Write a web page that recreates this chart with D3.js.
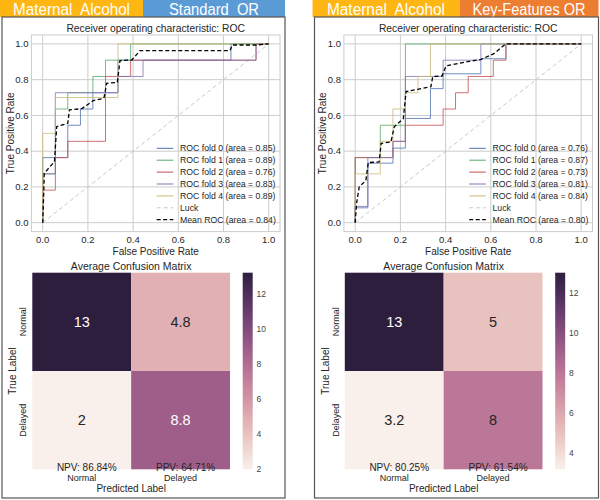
<!DOCTYPE html>
<html>
<head>
<meta charset="utf-8">
<script src="https://cdn.jsdelivr.net/npm/d3@7"></script>
<style>
  body { margin: 0; background: #fff; }
  text { font-family: "Liberation Sans", Arial, sans-serif; }
</style>
</head>
<body>
<div id="chart"></div>
<script>
// ---- data ----
const headerLeft = ["Maternal  Alcohol", "Standard  OR"];
const headerRight = ["Maternal  Alcohol", "Key-Features OR"];

const rocTicks = [0, 0.2, 0.4, 0.6, 0.8, 1.0];
const foldNames = ["ROC fold 0", "ROC fold 1", "ROC fold 2", "ROC fold 3", "ROC fold 4"];
const classNames = ["Normal", "Delayed"];

// step curves [fpr, tpr]
const leftFolds = [
  [[0, 0], [0, 0.364], [0.111, 0.364], [0.111, 0.545], [0.167, 0.545], [0.167, 0.636], [0.222, 0.636], [0.222, 0.727], [0.333, 0.727], [0.333, 0.909], [0.833, 0.909], [0.833, 1], [1, 1]],
  [[0, 0], [0, 0.273], [0.056, 0.273], [0.056, 0.636], [0.111, 0.636], [0.111, 0.727], [0.222, 0.727], [0.222, 0.818], [0.278, 0.818], [0.278, 0.909], [0.389, 0.909], [0.389, 1], [1, 1]],
  [[0, 0], [0, 0.182], [0.056, 0.182], [0.056, 0.364], [0.111, 0.364], [0.111, 0.455], [0.278, 0.455], [0.278, 0.818], [0.389, 0.818], [0.389, 0.909], [0.944, 0.909], [0.944, 1], [1, 1]],
  [[0, 0], [0, 0.273], [0.056, 0.273], [0.056, 0.727], [0.333, 0.727], [0.333, 0.818], [0.444, 0.818], [0.444, 0.909], [0.944, 0.909], [0.944, 1], [1, 1]],
  [[0, 0], [0, 0.5], [0.056, 0.5], [0.056, 0.7], [0.333, 0.7], [0.333, 1], [1, 1]]
];
const leftFoldAreas = [0.85, 0.89, 0.76, 0.83, 0.89];
const leftMean = [[0, 0], [0.003, 0.108], [0.007, 0.276], [0.032, 0.313], [0.052, 0.341], [0.062, 0.537], [0.111, 0.556], [0.118, 0.631], [0.173, 0.638], [0.224, 0.683], [0.271, 0.696], [0.283, 0.780], [0.330, 0.784], [0.342, 0.907], [0.394, 0.910], [0.431, 0.963], [0.829, 0.963], [0.839, 0.994], [0.947, 0.994], [0.991, 1], [1, 1]];
const leftMeanArea = 0.84;

const rightFolds = [
  [[0, 0], [0, 0.083], [0.056, 0.083], [0.056, 0.333], [0.167, 0.333], [0.167, 0.417], [0.222, 0.417], [0.222, 0.583], [0.333, 0.583], [0.333, 0.75], [0.389, 0.75], [0.389, 0.833], [0.556, 0.833], [0.556, 0.917], [0.667, 0.917], [0.667, 1], [1, 1]],
  [[0, 0], [0, 0.364], [0.111, 0.364], [0.111, 0.545], [0.222, 0.545], [0.222, 1], [1, 1]],
  [[0, 0], [0, 0.364], [0.167, 0.364], [0.167, 0.455], [0.222, 0.455], [0.222, 0.545], [0.389, 0.545], [0.389, 0.636], [0.444, 0.636], [0.444, 0.727], [0.5, 0.727], [0.5, 0.818], [0.611, 0.818], [0.611, 0.909], [0.667, 0.909], [0.667, 1], [1, 1]],
  [[0, 0], [0, 0.091], [0.056, 0.091], [0.056, 0.364], [0.167, 0.364], [0.167, 0.455], [0.222, 0.455], [0.222, 0.818], [0.389, 0.818], [0.389, 0.909], [0.556, 0.909], [0.556, 1], [1, 1]],
  [[0, 0], [0, 0.273], [0.111, 0.273], [0.111, 0.455], [0.167, 0.455], [0.167, 0.636], [0.222, 0.636], [0.222, 0.727], [0.278, 0.727], [0.278, 0.818], [0.333, 0.818], [0.333, 1], [1, 1]]
];
const rightFoldAreas = [0.76, 0.87, 0.73, 0.81, 0.84];
const rightMean = [[0, 0], [0.006, 0.108], [0.018, 0.201], [0.047, 0.235], [0.058, 0.336], [0.106, 0.340], [0.115, 0.444], [0.158, 0.451], [0.173, 0.537], [0.213, 0.582], [0.225, 0.733], [0.276, 0.746], [0.335, 0.761], [0.343, 0.817], [0.384, 0.821], [0.402, 0.877], [0.498, 0.901], [0.557, 0.914], [0.612, 0.944], [0.666, 1], [1, 1]];
const rightMeanArea = 0.80;

// average confusion matrices, rows = true, cols = predicted
const leftMatrix = [[13.2, 4.8], [2.0, 8.8]];
const rightMatrix = [[13.0, 5.0], [3.2, 8.0]];

// ---- styles ----
const foldColors = ["#4C72B0", "#55A868", "#C44E52", "#8172B2", "#CCB974"];
const gold = "#FFB612";
const textColor = "#262626";
const gridColor = "#cccccc";

const svg = d3.select("#chart").append("svg")
  .attr("width", 600)
  .attr("height", 500);

// seaborn-style cubehelix palette, low -> light, high -> dark
function cubehelix(t) {
  const x = 0.95 + (0.15 - 0.95) * t;
  const a = 0.8 * x * (1 - x) / 2;
  const phi = 2 * Math.PI * (0.4 * x);
  const c = Math.cos(phi), s = Math.sin(phi);
  const clamp = v => Math.max(0, Math.min(1, v));
  const r = clamp(x + a * (-0.14861 * c + 1.78277 * s));
  const g = clamp(x + a * (-0.29227 * c - 0.90649 * s));
  const b = clamp(x + a * (1.97294 * c));
  return d3.rgb(r * 255, g * 255, b * 255);
}

function drawPanel(ox, headers, headerSplit, headerEnd, headerColor, headerWidths, folds, areas, mean, meanArea, matrix) {
  const g = svg.append("g").attr("transform", "translate(" + ox + ",0)");

  // header bars
  g.append("rect").attr("x", 0).attr("y", 0).attr("width", headerSplit).attr("height", 17).attr("fill", gold);
  g.append("rect").attr("x", headerSplit).attr("y", 0).attr("width", headerEnd - headerSplit).attr("height", 17).attr("fill", headerColor);
  g.append("text").attr("x", headerSplit / 2).attr("y", 15)
    .attr("text-anchor", "middle").attr("fill", "#fff").style("font-size", "16px")
    .attr("textLength", headerWidths[0]).attr("lengthAdjust", "spacingAndGlyphs")
    .style("white-space", "pre").text(headers[0]);
  g.append("text").attr("x", (headerSplit + headerEnd) / 2).attr("y", 15)
    .attr("text-anchor", "middle").attr("fill", "#fff").style("font-size", "16px")
    .attr("textLength", headerWidths[1]).attr("lengthAdjust", "spacingAndGlyphs")
    .style("white-space", "pre").text(headers[1]);

  // panel border
  g.append("rect").attr("x", 2).attr("y", 17).attr("width", headerEnd - 2).attr("height", 481)
    .attr("fill", "none").attr("stroke", "#555").attr("stroke-width", 1.2);

  // ROC axes
  const x = d3.scaleLinear().domain([-0.05, 1.05]).range([31.4, 280]);
  const y = d3.scaleLinear().domain([-0.05, 1.05]).range([231.6, 35]);

  g.append("rect").attr("x", x(-0.05)).attr("y", y(1.05))
    .attr("width", x(1.05) - x(-0.05)).attr("height", y(-0.05) - y(1.05))
    .attr("fill", "#fff").attr("stroke", gridColor).attr("stroke-width", 1);

  g.selectAll(".vgrid").data(rocTicks).enter().append("line")
    .attr("x1", d => x(d)).attr("x2", d => x(d))
    .attr("y1", y(-0.05)).attr("y2", y(1.05))
    .attr("stroke", gridColor).attr("stroke-width", 1);
  g.selectAll(".hgrid").data(rocTicks).enter().append("line")
    .attr("y1", d => y(d)).attr("y2", d => y(d))
    .attr("x1", x(-0.05)).attr("x2", x(1.05))
    .attr("stroke", gridColor).attr("stroke-width", 1);

  g.selectAll(".xtick").data(rocTicks).enter().append("text")
    .attr("x", d => x(d)).attr("y", 243)
    .attr("text-anchor", "middle").attr("fill", textColor).style("font-size", "9.5px")
    .text(d3.format(".1f"));
  g.selectAll(".ytick").data(rocTicks).enter().append("text")
    .attr("x", 28.5).attr("y", d => y(d)).attr("dy", "0.35em")
    .attr("text-anchor", "end").attr("fill", textColor).style("font-size", "9.5px")
    .text(d3.format(".1f"));

  g.append("text").attr("x", (x(-0.05) + x(1.05)) / 2).attr("y", 255)
    .attr("text-anchor", "middle").attr("fill", textColor).style("font-size", "10px")
    .text("False Positive Rate");
  g.append("text").attr("transform", "translate(13.5," + ((y(-0.05) + y(1.05)) / 2) + ") rotate(-90)")
    .attr("text-anchor", "middle").attr("fill", textColor).style("font-size", "10px")
    .text("True Positive Rate");
  g.append("text").attr("x", (x(-0.05) + x(1.05)) / 2).attr("y", 31.5)
    .attr("text-anchor", "middle").attr("fill", textColor).style("font-size", "10.3px")
    .text("Receiver operating characteristic: ROC");

  const line = d3.line().x(d => x(d[0])).y(d => y(d[1]));

  // luck diagonal
  g.append("path").datum([[0, 0], [1, 1]]).attr("d", line)
    .attr("fill", "none").attr("stroke", "#c8c8c8").attr("stroke-width", 1)
    .attr("stroke-dasharray", "4,3");

  folds.forEach((f, i) => {
    g.append("path").datum(f).attr("d", line)
      .attr("fill", "none").attr("stroke", foldColors[i])
      .attr("stroke-width", 1).attr("stroke-opacity", 0.8);
  });

  g.append("path").datum(mean).attr("d", line)
    .attr("fill", "none").attr("stroke", "#000").attr("stroke-width", 1.3)
    .attr("stroke-dasharray", "4,2.5");

  // legend
  const legendItems = foldNames.map((n, i) => ({
    label: n + " (area = " + d3.format(".2f")(areas[i]) + ")",
    color: foldColors[i], dash: null, width: 1
  }));
  legendItems.push({ label: "Luck", color: "#c8c8c8", dash: "4,3", width: 1 });
  legendItems.push({ label: "Mean ROC (area = " + d3.format(".2f")(meanArea) + ")", color: "#000", dash: "4,2.5", width: 1.3 });

  const legend = g.append("g").attr("transform", "translate(156.7,148.3)");
  legendItems.forEach((d, i) => {
    legend.append("line").attr("x1", 0).attr("x2", 16.6).attr("y1", i * 11.9).attr("y2", i * 11.9)
      .attr("stroke", d.color).attr("stroke-width", d.width)
      .attr("stroke-dasharray", d.dash);
    legend.append("text").attr("x", 23.3).attr("y", i * 11.9).attr("dy", "0.35em")
      .attr("fill", textColor).style("font-size", "8.7px").text(d.label);
  });

  // confusion matrix heatmap
  const vals = matrix.flat();
  const vmin = d3.min(vals), vmax = d3.max(vals);
  const norm = v => (v - vmin) / (vmax - vmin);
  const hx = d3.scaleBand().domain([0, 1]).range([32.3, 230]);
  const hy = d3.scaleBand().domain([0, 1]).range([272.7, 469.3]);
  const fmt = d3.format(".2~g");

  const cells = [];
  matrix.forEach((row, r) => row.forEach((v, c) => cells.push({ r, c, v })));

  g.selectAll(".cell").data(cells).enter().append("rect")
    .attr("x", d => hx(d.c)).attr("y", d => hy(d.r))
    .attr("width", hx.bandwidth()).attr("height", hy.bandwidth())
    .attr("fill", d => cubehelix(norm(d.v)));

  // dark text on the lighter half of the palette, white on the darker one
  g.selectAll(".annot").data(cells).enter().append("text")
    .attr("x", d => hx(d.c) + hx.bandwidth() / 2)
    .attr("y", d => hy(d.r) + hy.bandwidth() / 2).attr("dy", "0.35em")
    .attr("text-anchor", "middle").style("font-size", "14.5px")
    .attr("fill", d => norm(d.v) < 0.55 ? textColor : "#fff")
    .text(d => fmt(d.v));

  // predictive values, per predicted column
  const npv = matrix[0][0] / (matrix[0][0] + matrix[1][0]);
  const ppv = matrix[1][1] / (matrix[1][1] + matrix[0][1]);
  g.append("text").attr("x", hx(0) + hx.bandwidth() / 2 + 5).attr("y", 471)
    .attr("text-anchor", "middle").attr("fill", textColor).style("font-size", "10px")
    .text("NPV: " + d3.format(".2f")(npv * 100) + "%");
  g.append("text").attr("x", hx(1) + hx.bandwidth() / 2 + 5).attr("y", 471)
    .attr("text-anchor", "middle").attr("fill", textColor).style("font-size", "10px")
    .text("PPV: " + d3.format(".2f")(ppv * 100) + "%");

  g.append("text").attr("x", (hx.range()[0] + hx.range()[1]) / 2).attr("y", 269.5)
    .attr("text-anchor", "middle").attr("fill", textColor).style("font-size", "10.5px")
    .text("Average Confusion Matrix");

  g.selectAll(".hxtick").data(classNames).enter().append("text")
    .attr("x", (d, i) => hx(i) + hx.bandwidth() / 2).attr("y", 480.5)
    .attr("text-anchor", "middle").attr("fill", textColor).style("font-size", "9px")
    .text(d => d);
  g.selectAll(".hytick").data(classNames).enter().append("text")
    .attr("transform", (d, i) => "translate(26," + (hy(i) + hy.bandwidth() / 2) + ") rotate(-90)")
    .attr("text-anchor", "middle").attr("fill", textColor).style("font-size", "9px")
    .text(d => d);
  g.append("text").attr("x", (hx.range()[0] + hx.range()[1]) / 2).attr("y", 491.5)
    .attr("text-anchor", "middle").attr("fill", textColor).style("font-size", "10px")
    .text("Predicted Label");
  g.append("text").attr("transform", "translate(16," + ((hy.range()[0] + hy.range()[1]) / 2) + ") rotate(-90)")
    .attr("text-anchor", "middle").attr("fill", textColor).style("font-size", "10px")
    .text("True Label");

  // colorbar
  const cb = d3.scaleLinear().domain([vmin, vmax]).range([469.3, 272.7]);
  const gradId = "grad" + Math.round(ox);
  const grad = svg.append("defs").append("linearGradient").attr("id", gradId)
    .attr("x1", 0).attr("x2", 0).attr("y1", 1).attr("y2", 0);
  d3.range(0, 1.0001, 0.05).forEach(t => {
    grad.append("stop").attr("offset", t).attr("stop-color", cubehelix(t));
  });
  g.append("rect").attr("x", 242.7).attr("y", 272.7).attr("width", 10).attr("height", 196.6)
    .attr("fill", "url(#" + gradId + ")");
  g.selectAll(".cbtick").data(cb.ticks(6)).enter().append("text")
    .attr("x", 256.5).attr("y", d => cb(d)).attr("dy", "0.35em")
    .attr("fill", "#444").style("font-size", "8.5px")
    .text(d => d);
}

drawPanel(0, headerLeft, 143, 285, "#5B9BD5", [117, 90], leftFolds, leftFoldAreas, leftMean, leftMeanArea, leftMatrix);
drawPanel(312.5, headerRight, 147, 286, "#ED7D31", [118, 113], rightFolds, rightFoldAreas, rightMean, rightMeanArea, rightMatrix);
</script>
</body>
</html>
